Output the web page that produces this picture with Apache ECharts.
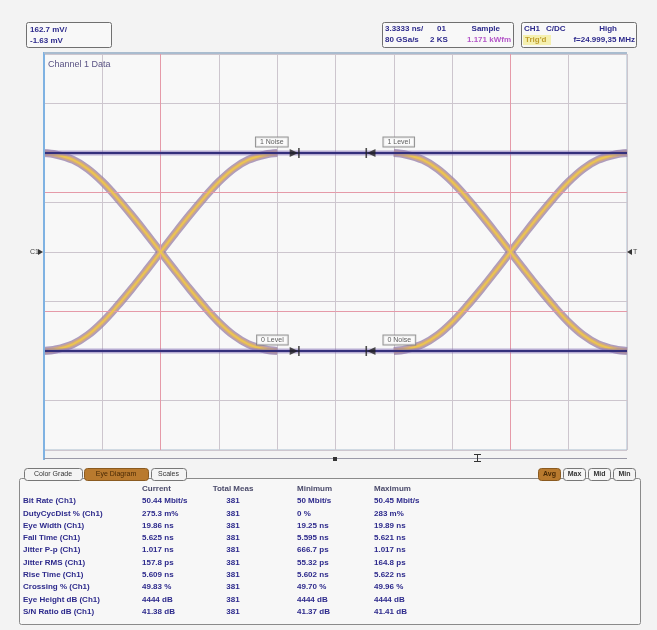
<!DOCTYPE html>
<html>
<head>
<meta charset="utf-8">
<script src="https://cdn.jsdelivr.net/npm/echarts@6/dist/echarts.min.js"></script>
<style>
  html, body { margin: 0; padding: 0; background: #f3f3f3; }
  #chart { width: 657px; height: 630px; }
</style>
</head>
<body>
<div id="chart"></div>
<script>
// ---- Eye diagram data (time in divisions, voltage in divisions from centre) ----
const timeDivs = 10;
const voltDivs = 8;
const crossingTimes = [2, 8];
// Rising-edge shape around a crossing: offset (div) and level (div)
const edgeOffsets = [-2.0, -1.8, -1.5, -1.25, -1.0, -0.75, -0.5, -0.25, 0, 0.25, 0.5, 0.75, 1.0, 1.25, 1.5, 1.8, 2.0];
const edgeLevels  = [-2.0, -1.97, -1.86, -1.68, -1.42, -1.1, -0.75, -0.38, 0, 0.38, 0.75, 1.1, 1.42, 1.68, 1.86, 1.97, 2.0];
const oneLevel = 2;
const zeroLevel = -2;
const thresholdFractions = [0.2, 0.8];

// Level / noise markers on the rails
const markerNames  = ['1 Noise', '1 Level', '0 Level', '0 Noise'];
const markerTimes  = [4.3, 5.6, 4.3, 5.6];
const markerLevels = [2, 2, -2, -2];

// Readouts
const scaleReadout = ['162.7 mV/', '-1.63 mV'];
const timebaseReadout = [['3.3333 ns/', '01', 'Sample'], ['80 GSa/s', '2 KS', '1.171 kWfm']];
const triggerReadout = [['CH1', 'C/DC', 'High'], ["Trig'd", 'f=24.999,35 MHz']];
const waveTitle = 'Channel 1 Data';

// Measurement table
const statHeaders = ['Current', 'Total Meas', 'Minimum', 'Maximum'];
const statNames = ['Bit Rate (Ch1)', 'DutyCycDist % (Ch1)', 'Eye Width (Ch1)', 'Fall Time (Ch1)',
  'Jitter P-p (Ch1)', 'Jitter RMS (Ch1)', 'Rise Time (Ch1)', 'Crossing % (Ch1)',
  'Eye Height dB (Ch1)', 'S/N Ratio dB (Ch1)'];
const statCurrent = ['50.44 Mbit/s', '275.3 m%', '19.86 ns', '5.625 ns', '1.017 ns', '157.8 ps',
  '5.609 ns', '49.83 %', '4444 dB', '41.38 dB'];
const statTotal = [381, 381, 381, 381, 381, 381, 381, 381, 381, 381];
const statMin = ['50 Mbit/s', '0 %', '19.25 ns', '5.595 ns', '666.7 ps', '55.32 ps',
  '5.602 ns', '49.70 %', '4444 dB', '41.37 dB'];
const statMax = ['50.45 Mbit/s', '283 m%', '19.89 ns', '5.621 ns', '1.017 ns', '164.8 ps',
  '5.622 ns', '49.96 %', '4444 dB', '41.41 dB'];
const leftTabs = ['Color Grade', 'Eye Diagram', 'Scales'];
const rightTabs = ['Avg', 'Max', 'Mid', 'Min'];

// ---- Build series ----
const chart = echarts.init(document.getElementById('chart'), null, { renderer: 'canvas' });
const series = [];

function addBand(points) {
  const common = { type: 'line', data: points, smooth: 0.35, showSymbol: false, silent: true };
  series.push(Object.assign({}, common, { lineStyle: { width: 8, color: 'rgba(150,125,170,0.75)' }, z: 3 }));
  series.push(Object.assign({}, common, { lineStyle: { width: 5, color: '#d0a884' }, z: 4 }));
  series.push(Object.assign({}, common, { lineStyle: { width: 2, color: '#ecc550' }, z: 5 }));
}
crossingTimes.forEach(c => {
  addBand(edgeOffsets.map((d, i) => [c + d, edgeLevels[i]]));
  addBand(edgeOffsets.map((d, i) => [c + d, -edgeLevels[i]]));
});

// Rails (logic 1 and logic 0)
[oneLevel, zeroLevel].forEach(v => {
  const pts = [[0, v], [timeDivs, v]];
  series.push({ type: 'line', data: pts, showSymbol: false, silent: true,
    lineStyle: { width: 5, color: 'rgba(130,110,180,0.55)' }, z: 6 });
  series.push({ type: 'line', data: pts, showSymbol: false, silent: true,
    lineStyle: { width: 2, color: '#34307c' }, z: 7 });
});

// Cursor and threshold lines
const thresholds = thresholdFractions.map(f => zeroLevel + f * (oneLevel - zeroLevel));
series.push({
  type: 'line', data: [], z: 2,
  markLine: {
    silent: true, symbol: 'none', label: { show: false },
    lineStyle: { color: '#e59aa8', width: 1, type: 'solid' },
    data: crossingTimes.map(t => ({ xAxis: t })).concat(thresholds.map(v => ({ yAxis: v })))
  }
});

// Level markers with labels
const rightArrow = 'path://M0,0 L8,4 L0,8 Z M8,-1 L9.5,-1 L9.5,9 L8,9 Z';
const leftArrow = 'path://M9.5,0 L1.5,4 L9.5,8 Z M0,-1 L1.5,-1 L1.5,9 L0,9 Z';
series.push({
  type: 'scatter', z: 10, silent: true,
  data: markerNames.map((n, i) => ({
    name: n, value: [markerTimes[i], markerLevels[i]],
    symbol: i % 2 === 0 ? rightArrow : leftArrow,
    label: { position: i % 2 === 0 ? 'left' : 'right', distance: i % 2 === 0 ? 2 : 8 }
  })),
  symbolSize: [10, 10],
  itemStyle: { color: '#222' },
  label: {
    show: true, formatter: '{b}', offset: [0, -11],
    fontSize: 7, fontFamily: 'Liberation Sans', color: '#333',
    backgroundColor: '#fbfbfb', borderColor: '#7a7a7a', borderWidth: 1,
    padding: [1, 4, 1, 4]
  }
});

// ---- Chrome: readout boxes, tabs, table ----
const navy = '#2d2a8c';
const font = 'bold 8px "Liberation Sans", Arial, sans-serif';
const graphic = [];
function txt(x, y, text, fill, extra) {
  graphic.push(Object.assign({ type: 'text', x: x, y: y, z: 20,
    style: Object.assign({ text: text, fill: fill || navy, font: font, textVerticalAlign: 'middle' }, extra || {}) }));
}
function box(x, y, w, h, fill, stroke, r) {
  graphic.push({ type: 'rect', z: 19, shape: { x: x, y: y, width: w, height: h, r: r || 0 },
    style: { fill: fill, stroke: stroke, lineWidth: 1 } });
}

// Scale readout
box(26.5, 22.5, 85, 25, '#f8f8f8', '#707070', 2);
txt(30, 30, scaleReadout[0]);
txt(30, 41, scaleReadout[1]);

// Timebase readout
box(382.5, 22.5, 131, 25, '#f8f8f8', '#707070', 2);
txt(385, 29, timebaseReadout[0][0]);
txt(437, 29, timebaseReadout[0][1]);
txt(500, 29, timebaseReadout[0][2], navy, { textAlign: 'right' });
txt(385, 40, timebaseReadout[1][0]);
txt(430, 40, timebaseReadout[1][1]);
txt(511, 40, timebaseReadout[1][2], '#b456c8', { textAlign: 'right' });

// Trigger readout
box(521.5, 22.5, 115, 25, '#f8f8f8', '#707070', 2);
txt(524, 29, triggerReadout[0][0]);
txt(546, 29, triggerReadout[0][1]);
txt(617, 29, triggerReadout[0][2], navy, { textAlign: 'right' });
box(523, 35, 28, 10, '#f5f0b0', 'none');
txt(525, 40, triggerReadout[1][0], '#c0a030');
txt(635, 40, triggerReadout[1][1], navy, { textAlign: 'right' });

// Waveform title
txt(48, 65, waveTitle, '#5a5384', { font: '9px "Liberation Sans", Arial, sans-serif' });

// Plot side borders and bottom ruler
graphic.push({ type: 'line', z: 18, shape: { x1: 44, y1: 52, x2: 44, y2: 460 }, style: { stroke: '#7fb2e2', lineWidth: 2 } });
graphic.push({ type: 'line', z: 18, shape: { x1: 44, y1: 53, x2: 627, y2: 53 }, style: { stroke: '#a9bccf', lineWidth: 2 } });
graphic.push({ type: 'line', z: 18, shape: { x1: 44, y1: 458.5, x2: 627, y2: 458.5 }, style: { stroke: '#9a9aa8', lineWidth: 1 } });
graphic.push({ type: 'rect', z: 18, shape: { x: 333, y: 457, width: 4, height: 4 }, style: { fill: '#333' } });
graphic.push({ type: 'line', z: 18, shape: { x1: 474, y1: 454.5, x2: 481, y2: 454.5 }, style: { stroke: '#333', lineWidth: 1 } });
graphic.push({ type: 'line', z: 18, shape: { x1: 477.5, y1: 454, x2: 477.5, y2: 462 }, style: { stroke: '#333', lineWidth: 1 } });
graphic.push({ type: 'line', z: 18, shape: { x1: 474, y1: 461.5, x2: 481, y2: 461.5 }, style: { stroke: '#333', lineWidth: 1 } });

// Channel and trigger level markers
txt(30, 252, 'C1', '#444', { font: '7px "Liberation Sans", Arial, sans-serif' });
graphic.push({ type: 'polygon', z: 20, shape: { points: [[38, 249], [43, 252], [38, 255]] }, style: { fill: '#333' } });
graphic.push({ type: 'polygon', z: 20, shape: { points: [[632, 249], [627, 252], [632, 255]] }, style: { fill: '#333' } });
txt(633, 252, 'T', '#444', { font: '7px "Liberation Sans", Arial, sans-serif' });

// Measurement panel
box(19.5, 478.5, 621, 146, '#f7f7f7', '#8a8a8a', 2);
const leftTabX = [24, 84, 151];
const leftTabW = [58, 64, 35];
leftTabs.forEach((t, i) => {
  const on = i === 1;
  box(leftTabX[i] + 0.5, 468.5, leftTabW[i], 12, on ? '#b97a2e' : '#f4f4f4', on ? '#8a5a20' : '#777', 3);
  txt(leftTabX[i] + leftTabW[i] / 2, 474.5, t, on ? '#4a2a05' : '#333',
    { textAlign: 'center', font: '7px "Liberation Sans", Arial, sans-serif' });
});
const rightTabX = [538, 563, 588, 613];
rightTabs.forEach((t, i) => {
  const on = i === 0;
  box(rightTabX[i] + 0.5, 468.5, 22, 12, on ? '#b97a2e' : '#f4f4f4', on ? '#8a5a20' : '#777', 3);
  txt(rightTabX[i] + 11.5, 474.5, t, on ? '#4a2a05' : '#333',
    { textAlign: 'center', font: 'bold 7px "Liberation Sans", Arial, sans-serif' });
});

const colX = [142, 233, 297, 374];
statHeaders.forEach((h, i) => {
  txt(colX[i], 488.5, h, '#4a4a6a', { textAlign: i === 1 ? 'center' : 'left' });
});
statNames.forEach((n, r) => {
  const y = 501 + r * 12.3;
  txt(23, y, n);
  txt(colX[0], y, statCurrent[r]);
  txt(colX[1], y, String(statTotal[r]), navy, { textAlign: 'center' });
  txt(colX[2], y, statMin[r]);
  txt(colX[3], y, statMax[r]);
});

chart.setOption({
  animation: false,
  backgroundColor: '#f3f3f3',
  grid: {
    left: 44, top: 54, width: 583, height: 396,
    show: true, backgroundColor: '#f8f8f8', borderColor: '#a9bccf', borderWidth: 1
  },
  xAxis: {
    type: 'value', min: 0, max: timeDivs, interval: 1,
    axisLine: { show: false }, axisTick: { show: false }, axisLabel: { show: false },
    splitLine: { show: true, lineStyle: { color: '#cdc6ce', width: 1 } }
  },
  yAxis: {
    type: 'value', min: -voltDivs / 2, max: voltDivs / 2, interval: 1,
    axisLine: { show: false }, axisTick: { show: false }, axisLabel: { show: false },
    splitLine: { show: true, lineStyle: { color: '#cdc6ce', width: 1 } }
  },
  series: series,
  graphic: graphic
});
</script>
</body>
</html>
